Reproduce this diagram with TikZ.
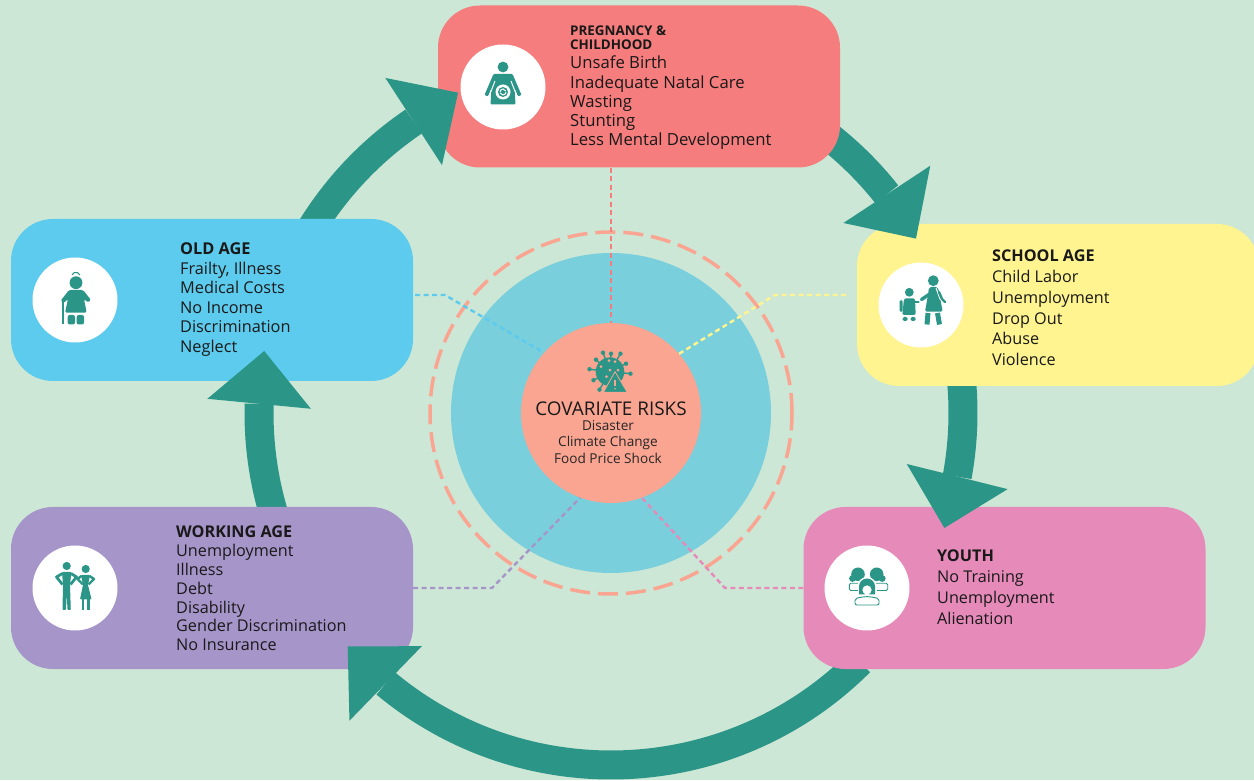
\documentclass[tikz,border=0pt]{standalone}
\usepackage{fontspec}
\setmainfont{Open Sans}
\usetikzlibrary{positioning}
\definecolor{bgmint}{HTML}{CDE7D6}
\definecolor{cycleteal}{HTML}{2B9687}
\definecolor{pregred}{HTML}{F67D7D}
\definecolor{oldblue}{HTML}{5DCBEE}
\definecolor{schoolyellow}{HTML}{FFF48F}
\definecolor{workpurple}{HTML}{A695C9}
\definecolor{youthpink}{HTML}{E58AB9}
\definecolor{discblue}{HTML}{79CFDB}
\definecolor{coresalmon}{HTML}{F9A591}
\tikzset{
  agebox/.style={rectangle, rounded corners=42pt, minimum width=402pt, minimum height=162pt, inner sep=0pt},
  iconspot/.style={circle, fill=white, minimum size=85pt, inner sep=0pt},
  agetext/.style={anchor=west, align=left, inner sep=0pt, text=black!90},
  cyclearc/.style={draw=cycleteal, line width=29pt},
  riskline/.style={line width=2.4pt, dash pattern=on 5pt off 3.5pt},
  cyclehead/.pic={\fill[cycleteal] (53,0) -- (0,52) -- (0,-52) -- cycle;},
  pregicon/.pic={
    \fill[cycleteal] (0,20) circle (5.4);
    \fill[cycleteal, rounded corners=1pt] (-9.5,13) -- (9.5,13) -- (18.5,-8) -- (15,-9.5) -- (11.5,-1) -- (12.5,-17.3) -- (-12.5,-17.3) -- (-11.5,-1) -- (-15,-9.5) -- (-18.5,-8) -- cycle;
    \draw[white, line width=1pt] (8,6) -- (11.5,-3) -- (14.5,-10);
    \draw[white, line width=1pt] (-8,6) -- (-11.5,-3) -- (-14.5,-10);
    \fill[white] (0,-5) circle (7.5);
    \fill[cycleteal] (0,-5) circle (5);
    \draw[white, line width=1pt] (-3,-5) arc[start angle=180, end angle=20, radius=3];
    \draw[white, line width=1pt] (3,-5) arc[start angle=0, end angle=-160, radius=3];
  },
  oldicon/.pic={
    \fill[cycleteal] (1,17.3) circle (6.4);
    \draw[cycleteal, line width=1pt] (-3,25) arc[start angle=160, end angle=20, radius=4.2];
    \fill[cycleteal, rounded corners=1.5pt] (-6,10) -- (8,10) -- (16,0) -- (13,-2.5) -- (9,1) -- (11.7,-12.7) -- (-10,-12.7) -- (-7,1) -- (-11,-3) -- (-14.5,-1) -- cycle;
    \fill[cycleteal, rounded corners=2pt] (-7.3,-15) rectangle (0,-24.5);
    \fill[cycleteal, rounded corners=2pt] (1.7,-15) rectangle (9,-24.5);
    \draw[cycleteal, line width=2pt] (-12.5,-2) -- (-12.5,-24.5);
  },
  schoolicon/.pic={
    % adult
    \fill[cycleteal] (12.3,24.3) circle (5.4);
    \fill[cycleteal, rounded corners=2pt] (8,18) -- (17,18) -- (21.7,-6.7) -- (4,-6.7) -- (7,10) -- cycle;
    \draw[cycleteal, line width=3.4pt, line cap=round] (8,10.5) -- (0.5,5.5);
    \draw[white, line width=1pt] (15,17) -- (19,6) -- (23,2);
    \draw[cycleteal, line width=2.4pt, line cap=round] (18,13) -- (21,6) -- (24,3);
    \draw[cycleteal, line width=5pt] (7,-8) -- (6,-19.5);
    \draw[cycleteal, line width=5pt] (16.5,-8) -- (18.5,-19.5);
    % child
    \fill[cycleteal] (-11.7,12.7) circle (4.4);
    \fill[cycleteal, rounded corners=1.5pt] (-17,6.5) -- (-6,6.5) -- (-5.3,-10) -- (-18.7,-10) -- cycle;
    \draw[cycleteal, line width=2.4pt, line cap=round] (-7,3) -- (-2.5,3);
    \fill[cycleteal, rounded corners=1.5pt] (-21.5,5) rectangle (-18.3,-7);
    \fill[cycleteal, rounded corners=1.5pt] (-18.5,-12) rectangle (-13.5,-16);
    \fill[cycleteal, rounded corners=1.5pt] (-10.5,-12) rectangle (-5.5,-16);
  },
  workicon/.pic={
    % man
    \fill[cycleteal] (-8.3,22) circle (4.1);
    \fill[cycleteal, rounded corners=0.8pt] (-13,16) -- (-3.6,16) -- (-5,3) -- (-4.2,-22) -- (-7.5,-22) -- (-8.3,-5) -- (-9,-22) -- (-12.5,-22) -- (-12,3) -- cycle;
    \draw[cycleteal, line width=2.8pt, line join=round] (-12.5,14.5) -- (-18.5,11) -- (-12.5,3.5);
    \draw[cycleteal, line width=2.8pt, line join=round] (-4,14.5) -- (1.5,11) -- (-4.5,3.5);
    % woman
    \fill[cycleteal] (10.7,19) circle (4.1);
    \fill[cycleteal, rounded corners=0.8pt] (6,13) -- (15,13) -- (13,3) -- (16.5,-11.3) -- (5,-11.3) -- (8,3) -- cycle;
    \draw[cycleteal, line width=2.4pt, line join=round] (6.5,12) -- (2.5,9) -- (8,3.5);
    \draw[cycleteal, line width=2.4pt, line join=round] (14.5,12) -- (19,9) -- (13.5,3.5);
    \draw[cycleteal, line width=2.6pt] (8,-11) -- (8,-22);
    \draw[cycleteal, line width=2.6pt] (13.5,-11) -- (13.5,-22);
  },
  youthicon/.pic={
    % back row
    \fill[cycleteal] (-9,13.7) circle (6.8);
    \fill[cycleteal] (-14.5,9.5) circle (3.4);
    \fill[cycleteal] (9.7,13.7) circle (6.8);
    \fill[cycleteal] (15.2,9.5) circle (3.4);
    \draw[cycleteal, fill=white, line width=0.9pt, rounded corners=1.5pt] (-17.7,4.7) rectangle (-6,-2.5);
    \draw[cycleteal, fill=white, line width=0.9pt, rounded corners=1.5pt] (6,4.7) rectangle (20.7,-2.5);
    % front
    \fill[white] (0,1.5) circle (9.5);
    \fill[white] (-9.5,-9) rectangle (9.5,1.5);
    \fill[cycleteal] (-8,1.5) -- (-8,-6.5) -- (8,-6.5) -- (8,1.5) arc[start angle=0, end angle=180, radius=8] -- cycle;
    \fill[white] (0,-2) circle (4.6);
    \fill[white] (-2,-9) rectangle (2,-4);
    \draw[cycleteal, fill=white, line width=0.9pt, rounded corners=2pt] (-12,-17) -- (-12,-10.5) -- (-3,-8.7) -- (3,-8.7) -- (12,-10.5) -- (12,-17) -- cycle;
  },
  virusicon/.pic={
    \foreach \sx/\sy in {-20.5/2.5,-14/12,-7/19,1/18,10.5/18,16/8,20.5/-2,-16.5/-8.5,-10.5/-18} {
      \draw[cycleteal, line width=1.4pt] (0,0) -- (\sx,\sy);
      \fill[cycleteal] (\sx,\sy) circle (2.2);
    }
    \fill[cycleteal] (0,0) circle (14.3);
    \foreach \sx/\sy in {-9/5,-1/11,0/1.5,8/1.5,-3.5/-5,5/10} {
      \fill[coresalmon] (\sx,\sy) circle (1.5);
    }
    \draw[coresalmon, fill=cycleteal, line width=0.8pt, line join=round] (5,0) -- (17.3,-20.7) -- (-6.7,-20.7) -- cycle;
    \draw[coresalmon, line width=1.5pt] (5,-8) -- (5,-14.5);
    \fill[coresalmon] (5,-17) circle (0.9);
  }
}
\begin{document}
\begin{tikzpicture}[x=1pt, y=1pt]
  \clip (0,0) rectangle (1254,780);
  \fill[bgmint] (0,0) rectangle (1254,780);
  \coordinate (hub) at (611,367);

  % Cycle bands
  \coordinate (oldstart) at ([shift={(150:352pt)}]hub);
  \coordinate (pregstart) at ([shift={(55:352pt)}]hub);
  \coordinate (schoolstart) at ([shift={(8:352pt)}]hub);
  \coordinate (youthstart) at ([shift={(-45:352pt)}]hub);
  \coordinate (workstart) at ([shift={(200:352pt)}]hub);
  \draw[cyclearc] (oldstart) arc[start angle=150, end angle=124.1, radius=352pt];
  \draw[cyclearc] (pregstart) arc[start angle=55, end angle=38.4, radius=352pt];
  \draw[cyclearc] (schoolstart) arc[start angle=8, end angle=-10.4, radius=352pt];
  \draw[cyclearc] (youthstart) arc[start angle=-45, end angle=-129.8, radius=352pt];
  \draw[cyclearc] (workstart) arc[start angle=200, end angle=178.5, radius=352pt];

  % Boxes
  \node[agebox, fill=pregred] (pregnancy) at (639,693.5) {};
  \node[agebox, fill=oldblue] (oldage) at (212,480) {};
  \node[agebox, fill=schoolyellow] (school) at (1058,475) {};
  \node[agebox, fill=workpurple] (working) at (212,192) {};
  \node[agebox, fill=youthpink] (youth) at (1004.5,192) {};

  % Arrow heads
  \pic[rotate=33] at ([shift={(124.1:352pt)}]hub) {cyclehead};
  \pic[rotate=-56.6] at ([shift={(38.4:352pt)}]hub) {cyclehead};
  \pic[rotate=-104] at ([shift={(-10.4:352pt)}]hub) {cyclehead};
  \pic[rotate=135.8] at ([shift={(-129.8:352pt)}]hub) {cyclehead};
  \pic[rotate=84.5] at ([shift={(178.5:352pt)}]hub) {cyclehead};

  % Icons
  \node[iconspot] (pregspot) at (503,693) {};
  \node[iconspot] (oldspot) at (75,480) {};
  \node[iconspot] (schoolspot) at (921,475) {};
  \node[iconspot] (workspot) at (75,192) {};
  \node[iconspot] (youthspot) at (867,192) {};
  \pic at (pregspot) {pregicon};
  \pic at (oldspot) {oldicon};
  \pic at (schoolspot) {schoolicon};
  \pic at (workspot) {workicon};
  \pic at (youthspot) {youthicon};

  % Labels
  \node[agetext, font=\fontsize{13.4}{14}\selectfont\bfseries] (pregtitle) at (570,742.5) {PREGNANCY \&\\CHILDHOOD};
  \node[agetext, font=\fontsize{16.7}{19.3}\selectfont] (preglist) at (570,677) {Unsafe Birth\\Inadequate Natal Care\\Wasting\\Stunting\\Less Mental Development};
  \node[agetext, font=\fontsize{16.3}{19.6}\selectfont] (oldlist) at (180,480.5) {\textbf{OLD AGE}\\Frailty, Illness\\Medical Costs\\No Income\\Discrimination\\Neglect};
  \node[agetext, font=\fontsize{16.2}{20.8}\selectfont] (schoollist) at (992,472) {\textbf{SCHOOL AGE}\\Child Labor\\Unemployment\\Drop Out\\Abuse\\Violence};
  \node[agetext, font=\fontsize{16.2}{18.8}\selectfont] (worklist) at (176,191.5) {\textbf{WORKING AGE}\\Unemployment\\Illness\\Debt\\Disability\\Gender Discrimination\\No Insurance};
  \node[agetext, font=\fontsize{16.2}{21}\selectfont] (youthlist) at (937,193) {\textbf{YOUTH}\\No Training\\Unemployment\\Alienation};

  % Centre
  \node[circle, draw=coresalmon, line width=3.5pt, dash pattern=on 20pt off 8pt, minimum size=362pt, inner sep=0pt] (riskring) at (hub) {};
  \node[circle, fill=discblue, minimum size=320pt, inner sep=0pt] (riskdisc) at (hub) {};
  \node[circle, fill=coresalmon, minimum size=180pt, inner sep=0pt] (core) at (hub) {};

  % Risk lines
  \coordinate (oldout) at (415,485);
  \coordinate (oldbend) at (445,485);
  \coordinate (schoolout) at (846,485);
  \coordinate (schoolbend) at (775,485);
  \coordinate (workbend) at (492,192);
  \coordinate (youthbend) at (725,192);
  \draw[riskline, pregred] (pregnancy.south -| core.north) -- (core.north);
  \draw[riskline, oldblue] (oldout) -- (oldbend) -- (core.138);
  \draw[riskline, schoolyellow] (schoolout) -- (schoolbend) -- (core.41);
  \draw[riskline, workpurple] (working.east) -- (workbend) -- (core.250);
  \draw[riskline, youthpink] (youth.west) -- (youthbend) -- (core.290);

  % Core text
  \pic at (610,408.3) {virusicon};
  \node[inner sep=0pt, font=\fontsize{18.9}{20}\selectfont, text=black!90] (coretitle) at (611,371) {COVARIATE RISKS};
  \node[inner sep=0pt, align=center, font=\fontsize{13.6}{16.5}\selectfont, text=black!85] (corelist) at (608,338) {Disaster\\Climate Change\\Food Price Shock};
\end{tikzpicture}
\end{document}
